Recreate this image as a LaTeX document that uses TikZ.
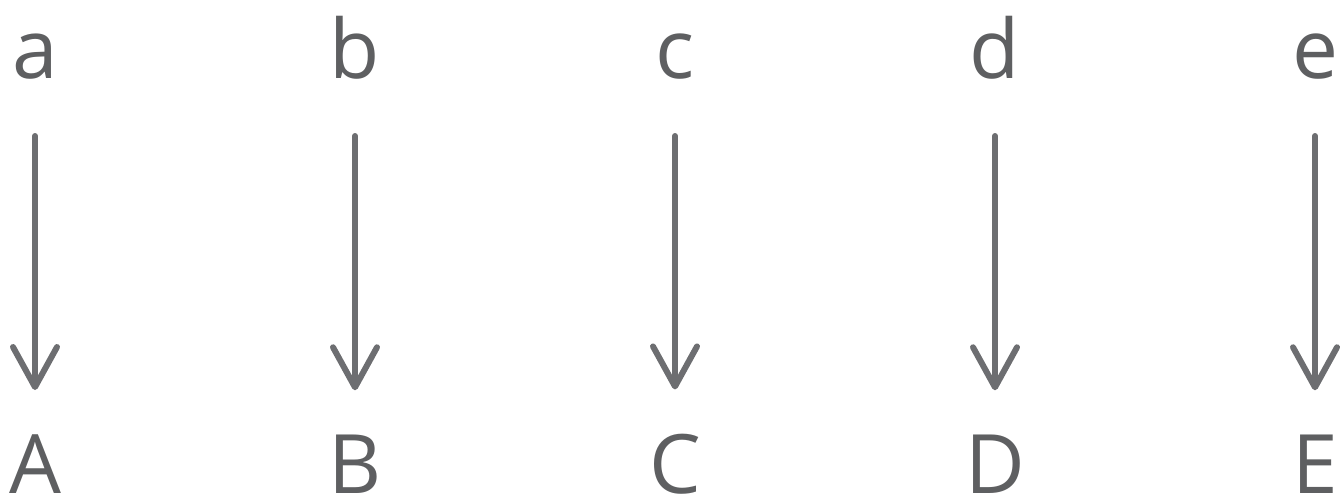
\documentclass[tikz,border=0pt]{standalone}
\usepackage{fontspec}
\setmainfont{Open Sans}
\usetikzlibrary{arrows.meta}
\definecolor{inkgray}{HTML}{5E5F61}
\definecolor{arrowgray}{HTML}{6D6E71}
\begin{document}
\begin{tikzpicture}[x=1pt,y=-1pt,
  letter/.style={inner sep=0pt, text=inkgray, font=\fontsize{82}{90}\selectfont},
  mapsto/.style={draw=arrowgray, line width=6pt, line cap=round,
    -{Straight Barb[length=40pt,width=44pt,round]},
    shorten <=57pt, shorten >=44pt}]
\useasboundingbox (0,0) rectangle (1343,498);
\foreach \lo/\up [count=\i from 0] in {a/A,b/B,c/C,d/D,e/E}{
  \node[letter, anchor=base] (\lo) at (35+320*\i,78) {\lo};
  \node[letter, anchor=base] (\up) at (35+320*\i,493) {\up};
  \draw[mapsto] (\lo.south) -- (\up.north);
}
\end{tikzpicture}
\end{document}
